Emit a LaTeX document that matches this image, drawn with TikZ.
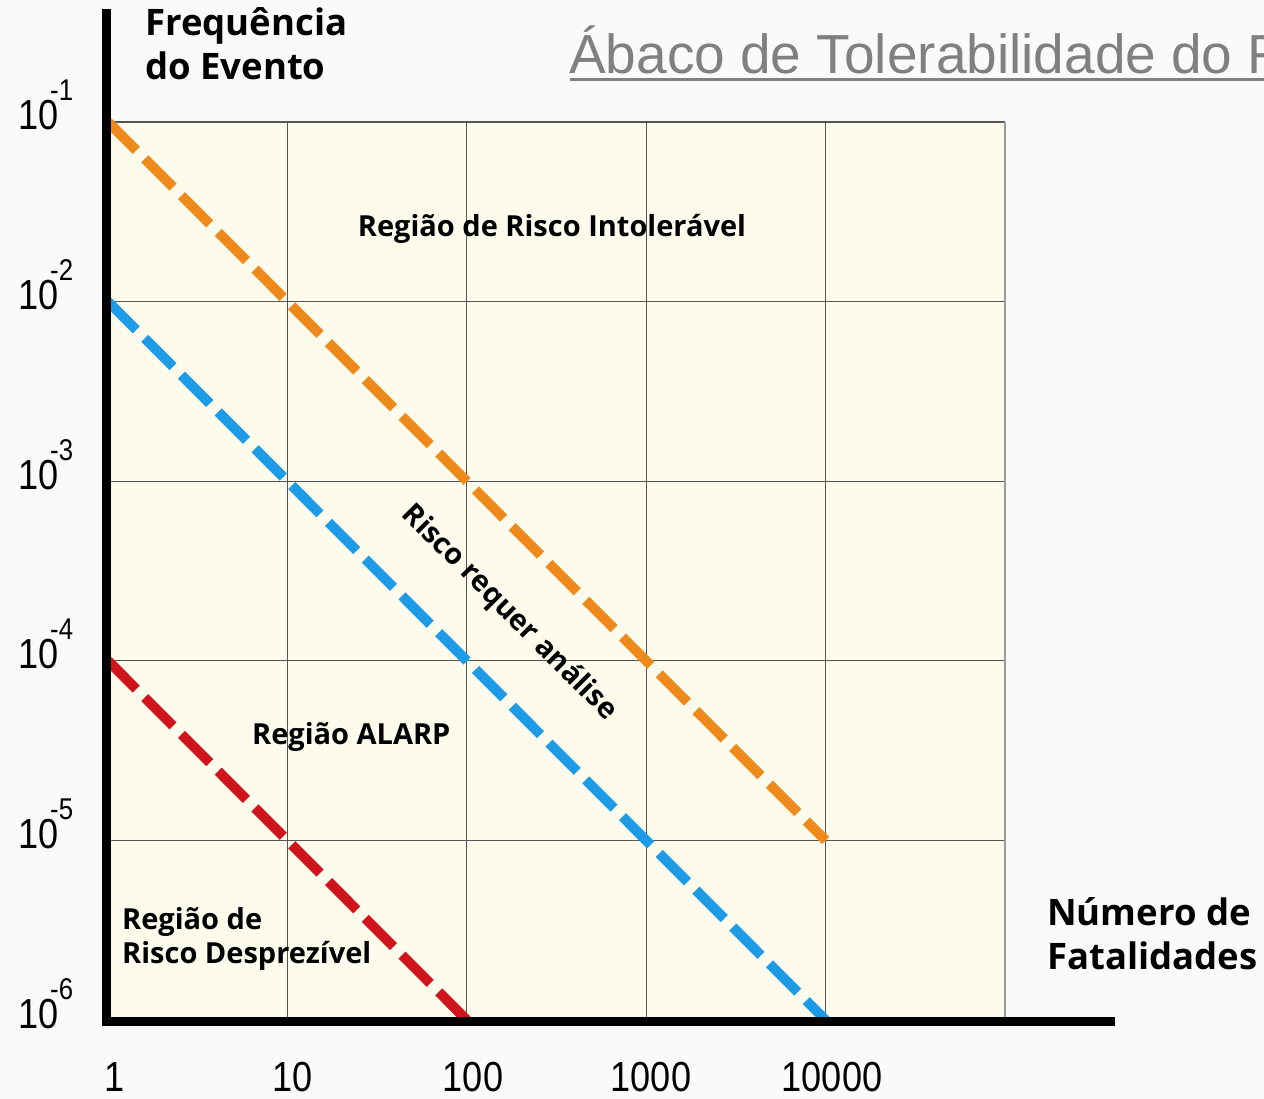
\documentclass[tikz,border=0pt]{standalone}
\usepackage{fontspec}
\setmainfont{Open Sans}
\newfontfamily\tickfont[FakeStretch=0.86]{Liberation Sans}
\newfontfamily\titlefont{Liberation Sans}
\definecolor{pagebg}{HTML}{FAFAFA}
\definecolor{cream}{HTML}{FDFBEC}
\definecolor{gridgray}{HTML}{555555}
\definecolor{bordergray}{HTML}{9A9A9A}
\definecolor{orangeline}{HTML}{EE8A1C}
\definecolor{blueline}{HTML}{1E9BE6}
\definecolor{redline}{HTML}{D0141C}
\definecolor{titlegray}{HTML}{808080}
\tikzset{
  riskline/.style={line width=10pt, dash pattern=on 40pt off 12pt},
  gridline/.style={draw=gridgray, line width=1.3pt},
  axisline/.style={line width=9pt, black},
  regionlabel/.style={font=\bfseries\fontsize{29}{35}\selectfont, inner sep=0pt},
  axislabel/.style={font=\bfseries\fontsize{36.5}{44}\selectfont, inner sep=0pt, align=left},
  ticklabel/.style={font=\tickfont\fontsize{42}{42}\selectfont, inner sep=0pt},
  expolabel/.style={font=\tickfont\fontsize{30}{30}\selectfont, inner sep=0pt},
}
\begin{document}
\begin{tikzpicture}[x=1pt,y=-1pt]
\useasboundingbox (0,0) rectangle (1264,1099);
\fill[pagebg] (0,0) rectangle (1264,1099);
% grid area
\fill[cream] (108,122) rectangle (1005,1020);
\foreach \xx in {287.4,466.8,646.2,825.6}
  \draw[gridline] (\xx,122) -- (\xx,1020);
\foreach \yy in {301.6,481.2,660.8,840.4}
  \draw[gridline] (108,\yy) -- (1005,\yy);
\draw[gridline] (108,122) -- (1005,122);
\draw[draw=bordergray, line width=2pt] (1005,122) -- (1005,1020);
% endpoints
\coordinate (o1) at (108,122);
\coordinate (o2) at (825.6,840.4);
\coordinate (b1) at (108,301.6);
\coordinate (b2) at (825.6,1020);
\coordinate (r1) at (108,660.8);
\coordinate (r2) at (466.8,1020);
\draw[riskline, orangeline] (o1) -- (o2);
\draw[riskline, blueline] (b1) -- (b2);
\draw[riskline, redline] (r1) -- (r2);
% axes
\coordinate (ytop) at (106,9);
\coordinate (origin) at (106,1021);
\coordinate (xend) at (1115,1021);
\draw[axisline] (ytop) -- (origin);
\draw[axisline] (102,1021) -- (xend);
% y tick labels
\foreach \yy/\ee in {122/-1,301.6/-2,481.2/-3,660.8/-4,840.4/-5,1020/-6}{
  \node[ticklabel, anchor=base west] at (18,\yy+8) {10};
  \node[expolabel, anchor=base west] at (50,\yy-21) {\ee};
}
% x tick labels
\foreach \xx/\tt in {115/1,293/10,473/100,651/1000,832/10000}
  \node[ticklabel, anchor=base] at (\xx,1091) {\tt};
% axis titles
\node[axislabel, anchor=base west] (freq) at (145,36) {Frequência};
\node[axislabel, anchor=base west] (evento) at (145,80) {do Evento};
\node[axislabel, anchor=base west] (numero) at (1047,925) {Número de};
\node[axislabel, anchor=base west] (fatal) at (1047,969) {Fatalidades};
% region labels
\node[regionlabel, anchor=base] (intol) at (552,237) {Região de Risco Intolerável};
\node[regionlabel, anchor=base west] (alarp) at (252,744) {Região ALARP};
\node[regionlabel, anchor=base west] (despr1) at (122,929) {Região de};
\node[regionlabel, anchor=base west] (despr2) at (122,963) {Risco Desprezível};
\node[regionlabel, rotate=-45] (analise) at (509,613) {Risco requer análise};
% title
\begin{scope}
\clip (0,0) rectangle (1264,1099);
\node[font=\titlefont\fontsize{55}{56}\selectfont, text=titlegray, anchor=base west, inner sep=0pt] (title) at (569,74) {Ábaco de Tolerabilidade do Risco};
\fill[titlegray] (570,78.5) rectangle (1400,81.5);
\end{scope}
\end{tikzpicture}
\end{document}
